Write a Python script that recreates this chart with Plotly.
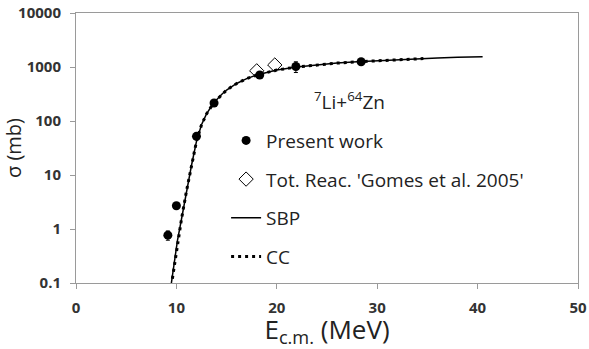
import plotly.graph_objects as go

# Present work
pw_x = [9.15, 10.0, 12.0, 13.75, 18.3, 21.9, 28.4]
pw_y = [0.77, 2.7, 52, 215, 710, 1020, 1250]
pw_err = [0.15, 0.3, 5, 20, 60, 230, 80]

# Gomes et al. 2005 total reaction
gm_x = [18.0, 19.8]
gm_y = [850, 1090]

# SBP curve
sbp_x = [9.5, 9.8, 10.1, 10.5, 11.0, 11.5, 12.0, 12.5, 13.0, 13.7, 14.5, 15.0, 16.0, 17.0, 18.0, 19.0,
         20.0, 22.0, 24.0, 26.0, 28.0, 30.0, 32.0, 34.0, 36.0, 38.0, 40.5]
sbp_y = [0.1, 0.25, 0.6, 1.5, 5.0, 15, 42, 85, 135, 215, 310, 375, 495, 610, 710, 800,
         880, 1000, 1100, 1180, 1250, 1310, 1370, 1420, 1470, 1510, 1550]

# CC curve
cc_x = [9.6, 9.9, 10.2, 10.5, 11.0, 11.5, 12.0, 12.5, 13.0, 13.7, 14.5, 15.0, 16.0, 17.0, 18.0, 19.0,
        20.0, 22.0, 24.0, 26.0, 28.0, 30.0, 32.0, 34.6]
cc_y = [0.12, 0.3, 0.7, 1.5, 5.0, 15, 42, 85, 135, 215, 310, 375, 495, 610, 710, 800,
        880, 1000, 1100, 1180, 1250, 1310, 1370, 1430]

x_ticks = [0, 10, 20, 30, 40, 50]
y_ticks = [0.1, 1, 10, 100, 1000, 10000]
y_ticktext = ["0.1", "1", "10", "100", "1000", "10000"]

fig = go.Figure()
fig.add_trace(go.Scatter(x=sbp_x, y=sbp_y, mode="lines", name="SBP",
                         line=dict(color="black", width=1.5), legendrank=3, legendgroup="c"))
fig.add_trace(go.Scatter(x=cc_x, y=cc_y, mode="lines", name="CC",
                         line=dict(color="black", width=3, dash="3px,4px"), legendrank=4, legendgroup="d"))
fig.add_trace(go.Scatter(x=pw_x, y=pw_y, mode="markers", name="Present work",
                         marker=dict(symbol="circle", size=9, color="black"),
                         error_y=dict(type="data", array=pw_err, color="black", thickness=1, width=2),
                         legendrank=1, legendgroup="a"))
fig.add_trace(go.Scatter(x=gm_x, y=gm_y, mode="markers", name="Tot. Reac. 'Gomes et al. 2005'",
                         marker=dict(symbol="diamond-open", size=11, color="black", line=dict(width=1)),
                         legendrank=2, legendgroup="b"))

fig.add_annotation(x=0.545, y=0.733, xref="paper", yref="paper", text="<sup>7</sup>Li+<sup>64</sup>Zn",
                   showarrow=False, font=dict(family="Open Sans", size=19, color="#222"))

axis_common = dict(showline=True, linecolor="#9a9a9a", linewidth=1, mirror=True, showgrid=False,
                   zeroline=False, ticks="outside", tickcolor="#9a9a9a", ticklen=5, automargin=False,
                   tickfont=dict(family="Open Sans", size=15, color="#333", weight="bold"))

fig.update_xaxes(range=[0, 50], tickvals=x_ticks, ticklabelstandoff=6,
                 title=dict(text="E<sub>c.m.</sub> (MeV)", font=dict(family="Open Sans", size=26, color="#222"),
                            standoff=5), **axis_common)
fig.update_yaxes(type="log", range=[-1, 4], tickvals=y_ticks, ticktext=y_ticktext, ticklabelstandoff=6,
                 title=dict(text="σ (mb)", font=dict(family="Open Sans", size=20, color="#222"), standoff=4),
                 **axis_common)

fig.update_layout(
    width=589, height=349,
    margin=dict(l=76, r=11, t=13, b=66),
    paper_bgcolor="white", plot_bgcolor="white",
    legend=dict(x=0.299, y=0.598, xanchor="left", yanchor="top", tracegroupgap=11,
                font=dict(family="Open Sans", size=19, color="#222"), bgcolor="rgba(0,0,0,0)",
                traceorder="grouped"),
)

fig.write_html("out.html")
